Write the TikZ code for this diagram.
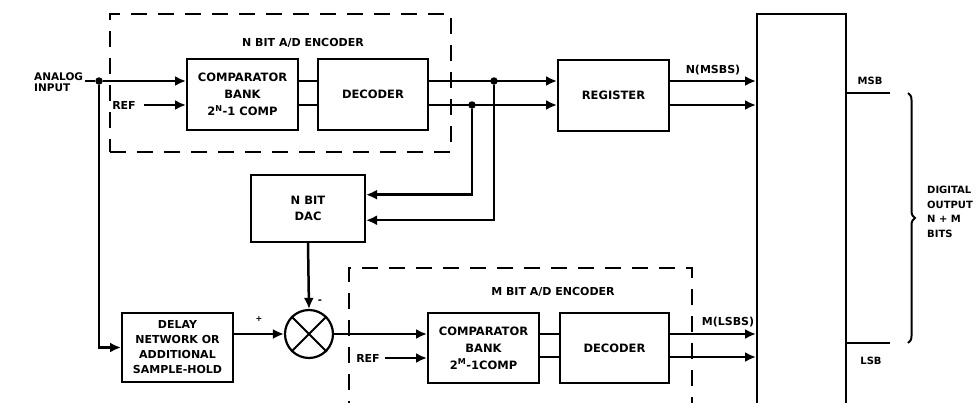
\documentclass[tikz,border=0pt]{standalone}
\usepackage{fontspec}
\setmainfont{DejaVu Sans}
\usetikzlibrary{arrows.meta,decorations.pathreplacing,calc}
\begin{document}
\begin{tikzpicture}[x=1pt,y=-1pt,
  blk/.style={draw,line width=2pt,rectangle,inner sep=0pt,align=center,
    font=\bfseries\fontsize{11.5}{17}\selectfont},
  sig/.style={line width=2.5pt},
  arr/.style={sig,-{Latex[length=11pt,width=10pt]}},
  jdot/.style={circle,fill,inner sep=0pt,minimum size=7.5pt},
  lbl/.style={font=\bfseries\fontsize{11}{14}\selectfont,inner sep=0pt,align=left},
  encbox/.style={draw,line width=2pt,dash pattern=on 16pt off 11pt,rectangle,inner sep=0pt},
  thin/.style={line width=2pt}]
\useasboundingbox (0,0) rectangle (978,402);
\clip (0,0) rectangle (978,402);

% encoder boxes (dashed)
\node[encbox,minimum width=341pt,minimum height=138pt] (encN) at (280.5,83) {};
\node[encbox,minimum width=343pt,minimum height=180pt] (encM) at (520.5,358) {};
\node[lbl] (encNl) at (303,43) {N BIT A/D ENCODER};
\node[lbl] (encMl) at (553,292) {M BIT A/D ENCODER};

% blocks
\node[blk,minimum width=111pt,minimum height=71pt] (cmpN) at (242.5,94.5)
  {COMPARATOR\\BANK\\2\textsuperscript{N}-1 COMP};
\node[blk,minimum width=110pt,minimum height=71pt] (decN) at (373,94.5) {DECODER};
\node[blk,minimum width=111pt,minimum height=71pt] (reg) at (613.5,95) {REGISTER};
\node[blk,minimum width=89pt,minimum height=400pt] (out) at (801.5,214) {};
\node[blk,minimum width=114pt,minimum height=67pt,font=\bfseries\fontsize{11.5}{16}\selectfont] (dac) at (308,208.5) {N BIT\\DAC};
\node[blk,minimum width=111pt,minimum height=69pt,font=\bfseries\fontsize{11}{15}\selectfont] (delay) at (177.5,347.5)
  {DELAY\\NETWORK OR\\ADDITIONAL\\SAMPLE-HOLD};
\node[draw,circle,line width=2.2pt,minimum size=48pt,inner sep=0pt] (sum) at (309,334) {};
\draw[thin] (sum.north east) -- (sum.south west) (sum.north west) -- (sum.south east);
\node[blk,minimum width=111pt,minimum height=70pt] (cmpM) at (483.5,348)
  {COMPARATOR\\BANK\\2\textsuperscript{M}-1COMP};
\node[blk,minimum width=109pt,minimum height=70pt] (decM) at (614.5,348) {DECODER};

% analog input
\node[lbl,anchor=west,font=\bfseries\fontsize{10.5}{11}\selectfont] (ain) at (34,82) {ANALOG\\INPUT};
\coordinate (u1) at (0,81);
\coordinate (u2) at (0,105);
\node[jdot] (jA) at (99,81) {};
\draw[sig] ([xshift=2pt]ain.east |- u1) -- (jA);
\draw[arr] (jA) -- (jA -| cmpN.west);
\draw[arr] (jA) |- (delay.west);

% upper REF
\node[lbl] (ref1) at (124,105) {REF};
\draw[arr] ([xshift=8pt]ref1.east) -- (ref1 -| cmpN.west);

% comparator to decoder (N)
\draw[sig] (cmpN.east |- u1) -- (decN.west |- u1);
\draw[sig] (cmpN.east |- u2) -- (decN.west |- u2);

% decoder to register
\draw[arr] (decN.east |- u1) -- (reg.west |- u1);
\draw[arr] (decN.east |- u2) -- (reg.west |- u2);
\node[jdot] (j1) at (494,81) {};
\node[jdot] (j2) at (472,105) {};
\coordinate (dacin1) at ($(dac.north east)!0.3!(dac.south east)$);
\coordinate (dacin2) at ($(dac.north east)!0.67!(dac.south east)$);
\draw[arr] (j2) |- (dacin1);
\draw[arr] (j1) |- (dacin2);

% register to output
\draw[arr] (reg.east |- u1) -- (out.west |- u1);
\draw[arr] (reg.east |- u2) -- (out.west |- u2);
\node[lbl] (nmsb) at (713,70) {N(MSBS)};

% DAC to summer
\draw[arr] (dac.south) -- (sum.north);
\node[lbl,font=\bfseries\fontsize{10}{10}\selectfont] (minus) at (320,302) {-};
\node[lbl,font=\bfseries\fontsize{8}{8}\selectfont] (plus) at (259,319) {+};
\draw[arr] (delay.east |- sum) -- (sum.west);
\draw[arr] (sum.east) -- (sum.east -| cmpM.west);

% lower REF
\node[lbl] (ref2) at (368,358) {REF};
\draw[arr] ([xshift=5pt]ref2.east) -- (ref2 -| cmpM.west);

% comparator to decoder (M)
\coordinate (l1) at (0,334);
\coordinate (l2) at (0,357);
\draw[sig] (cmpM.east |- l1) -- (decM.west |- l1);
\draw[sig] (cmpM.east |- l2) -- (decM.west |- l2);
\draw[arr] (decM.east |- l1) -- (out.west |- l1);
\draw[arr] (decM.east |- l2) -- (out.west |- l2);
\node[lbl] (mlsb) at (728,322) {M(LSBS)};

% outputs
\coordinate (msb) at (890,93);
\coordinate (lsb) at (890,343);
\draw[thin] (msb -| out.east) -- (msb);
\draw[thin] (lsb -| out.east) -- (lsb);
\node[lbl,font=\bfseries\fontsize{10}{10}\selectfont] (msbl) at (870,81) {MSB};
\node[lbl,font=\bfseries\fontsize{10}{10}\selectfont] (lsbl) at (871,361) {LSB};
\draw[thin,decorate,decoration={brace,amplitude=7pt}] (908,93) -- (908,343);
\node[lbl,anchor=north west,font=\bfseries\fontsize{10}{14.5}\selectfont] (dout) at (927,186) {DIGITAL\\OUTPUT\\N + M\\BITS};
\end{tikzpicture}
\end{document}
